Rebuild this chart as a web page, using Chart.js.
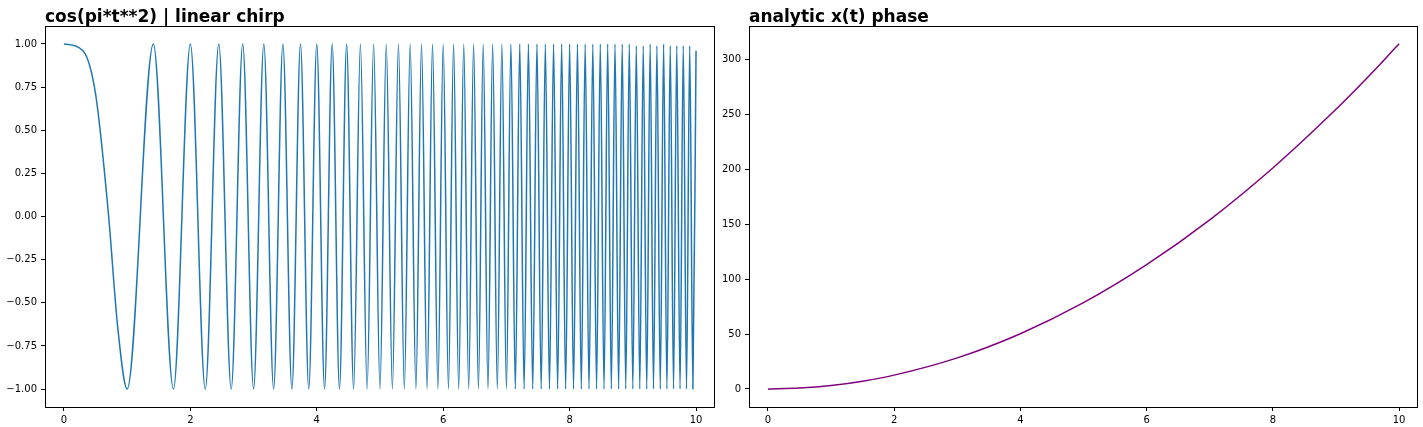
<!DOCTYPE html>
<html>
<head>
<meta charset="utf-8">
<script src="https://cdn.jsdelivr.net/npm/chart.js@4.4.1/dist/chart.umd.min.js"></script>
<style>
  html, body { margin: 0; padding: 0; background: #fff; }
  body { width: 1423px; height: 427px; position: relative; overflow: hidden; }
  .panel { position: absolute; top: 0; height: 427px; }
  #leftBox { left: 0; width: 720px; }
  #rightBox { left: 703px; width: 720px; }
</style>
</head>
<body>
<div class="panel" id="leftBox"><canvas id="chirpChart"></canvas></div>
<div class="panel" id="rightBox"><canvas id="phaseChart"></canvas></div>
<script>
/* ---- Data ---- */

// chirp: crest / trough positions (plus a few points on the first slow lobe)
const CHIRP_T = [
  0, 0.3, 0.5, 0.7, 0.85, 1,
  1.414, 1.732, 2, 2.236, 2.449, 2.646, 2.828, 3, 3.162, 3.317,
  3.464, 3.606, 3.742, 3.873, 4, 4.123, 4.243, 4.359, 4.472, 4.583,
  4.69, 4.796, 4.899, 5, 5.099, 5.196, 5.292, 5.385, 5.477, 5.568,
  5.657, 5.745, 5.831, 5.916, 6, 6.083, 6.164, 6.245, 6.325, 6.403,
  6.481, 6.557, 6.633, 6.708, 6.782, 6.856, 6.928, 7, 7.071, 7.141,
  7.211, 7.28, 7.348, 7.416, 7.483, 7.55, 7.616, 7.681, 7.746, 7.81,
  7.874, 7.937, 8, 8.062, 8.124, 8.185, 8.246, 8.307, 8.367, 8.426,
  8.485, 8.544, 8.602, 8.66, 8.718, 8.775, 8.832, 8.888, 8.944, 9,
  9.055, 9.11, 9.165, 9.22, 9.274, 9.327, 9.381, 9.434, 9.487, 9.539,
  9.592, 9.644, 9.695, 9.747, 9.798, 9.849, 9.9, 9.95, 10
];
const CHIRP_Y = [
  1, 0.96, 0.71, 0.03, -0.64, -1,
  1, -1, 1, -1, 1, -1, 1, -1, 1, -1,
  1, -1, 1, -1, 1, -1, 1, -1, 1, -1,
  1, -1, 1, -1, 1, -1, 1, -1, 1, -1,
  1, -1, 1, -1, 1, -1, 1, -1, 1, -1,
  1, -1, 1, -1, 1, -1, 1, -1, 1, -1,
  1, -1, 1, -1, 1, -1, 1, -1, 1, -1,
  1, -1, 1, -1, 1, -1, 1, -1, 1, -1,
  1, -1, 1, -1, 1, -1, 1, -1, 1, -1,
  0.99, -1, 0.99, -1, 1, -1, 0.99, -1, 1, -1,
  0.99, -1, 0.99, -1, 0.99, -1, 0.99, -1, 0.96
];

// analytic phase
const PHASE_T = [0, 0.5, 1, 1.5, 2, 3, 4, 5, 6, 7, 8, 9, 9.5, 9.8, 10];
const PHASE_Y = [0, 0.8, 3.1, 7.1, 12.6, 28.3, 50.3, 78.5, 113.1, 153.9, 201.1, 254.5, 283.5, 301.7, 314.2];

const X_TICKS = [0, 2, 4, 6, 8, 10];
const CHIRP_Y_TICKS = [-1, -0.75, -0.5, -0.25, 0, 0.25, 0.5, 0.75, 1];
const PHASE_Y_TICKS = [0, 50, 100, 150, 200, 250, 300];

const TITLES = { chirp: "cos(pi*t**2) | linear chirp", phase: "analytic x(t) phase" };

/* ---- Helpers ---- */

Chart.defaults.font.family = "'DejaVu Sans', sans-serif";
Chart.defaults.font.size = 10;
Chart.defaults.color = "#000";

const toPts = (xs, ys) => xs.map((x, i) => ({ x, y: ys[i] }));
const minus = (s) => s.replace("-", "\u2212");

// frame on all four sides + bold left-aligned title above the axes
const framePlugin = {
  id: "frame",
  afterDraw(chart, args, opts) {
    const { ctx, chartArea: a } = chart;
    ctx.save();
    ctx.strokeStyle = "#000";
    ctx.lineWidth = 1;
    ctx.strokeRect(a.left + 0.5, a.top + 0.5, a.right - a.left - 1, a.bottom - a.top);
    ctx.fillStyle = "#000";
    ctx.font = "bold 17px 'DejaVu Sans', sans-serif";
    ctx.textAlign = "left";
    ctx.textBaseline = "alphabetic";
    ctx.fillText(opts.text, a.left, a.top - 4.5);
    ctx.restore();
  },
};

function axis(ticks, min, max, fmt, side) {
  return {
    type: "linear",
    min, max,
    afterBuildTicks: (s) => { s.ticks = ticks.map((v) => ({ value: v })); },
    afterFit: (s) => {
      if (side === "x") s.height = 20; else s.width = side;
    },
    grid: { display: true, drawOnChartArea: false, drawTicks: true, tickLength: 4, tickColor: "#000" },
    border: { display: false },
    ticks: { autoSkip: false, maxRotation: 0, padding: side === "x" ? 3 : 4, callback: fmt },
  };
}

function makeChart(canvas, title, points, color, xr, yr, yTicks, yFmt, yWidth) {
  return new Chart(canvas, {
    type: "line",
    data: {
      datasets: [{
        data: points,
        borderColor: color,
        borderWidth: 1.5,
        pointRadius: 0,
        cubicInterpolationMode: "monotone",
        fill: false,
      }],
    },
    options: {
      animation: false,
      responsive: true,
      maintainAspectRatio: false,
      layout: { padding: { left: 0, right: 5, top: 26, bottom: 0 } },
      plugins: { legend: { display: false }, tooltip: { enabled: false }, frame: { text: title } },
      scales: {
        x: axis(X_TICKS, xr[0], xr[1], (v) => String(v), "x"),
        y: axis(yTicks, yr[0], yr[1], yFmt, yWidth),
      },
    },
    plugins: [framePlugin],
  });
}

/* ---- Bootstrap ---- */

makeChart(
  document.getElementById("chirpChart"), TITLES.chirp,
  toPts(CHIRP_T, CHIRP_Y), "#1f77b4",
  [-0.3, 10.3], [-1.104, 1.104], CHIRP_Y_TICKS,
  (v) => minus(Number(v).toFixed(2)), 45
);

makeChart(
  document.getElementById("phaseChart"), TITLES.phase,
  toPts(PHASE_T, PHASE_Y), "#800080",
  [-0.3, 10.3], [-16.4, 330.3], PHASE_Y_TICKS,
  (v) => String(v), 46
);
</script>
</body>
</html>
